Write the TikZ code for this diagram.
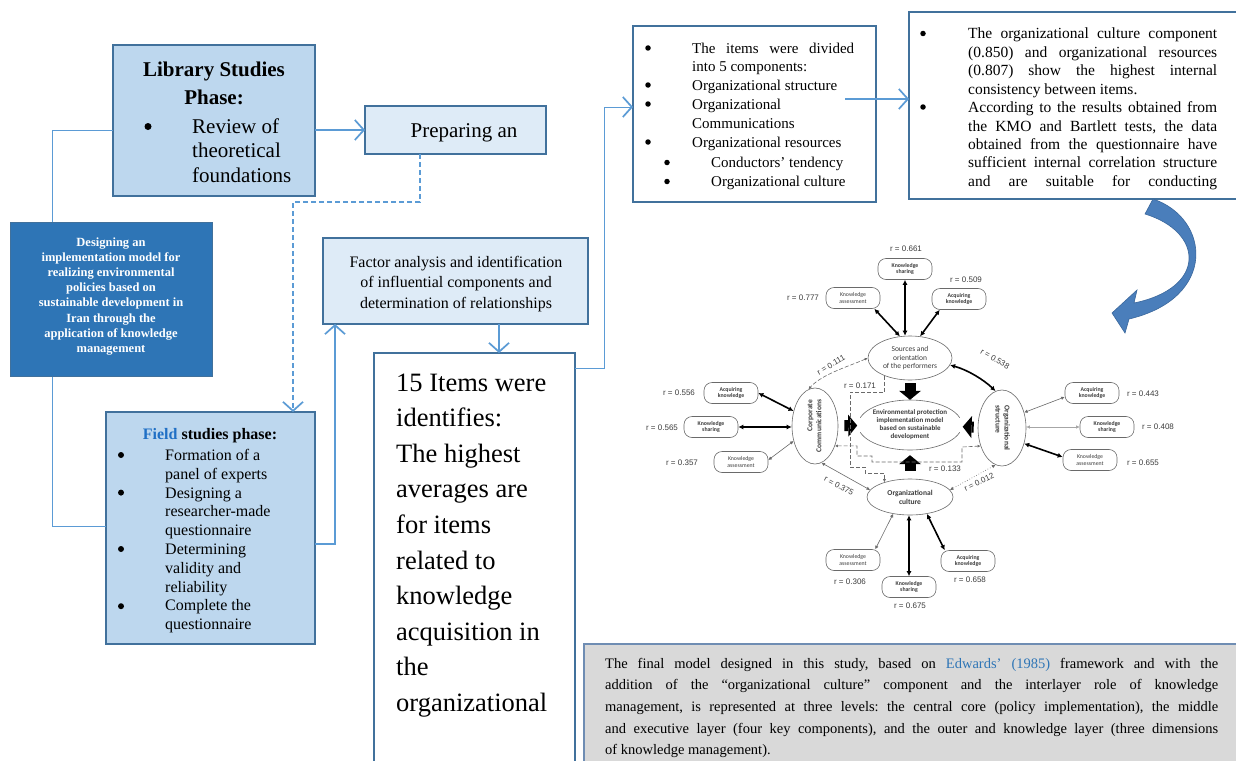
\documentclass[tikz,border=0pt]{standalone}
\usepackage{fontspec}
\usepackage{graphicx}
\setmainfont{Liberation Serif}
\newfontfamily\carl{Carlito}
\newfontfamily\arl{Liberation Sans}
\usetikzlibrary{arrows.meta,shapes.geometric}
\definecolor{boxblue}{HTML}{BDD7EE}
\definecolor{paleblue}{HTML}{DEEBF7}
\definecolor{darkfill}{HTML}{2E75B6}
\definecolor{edgeblue}{HTML}{41719C}
\definecolor{linkblue}{HTML}{5B9BD5}
\definecolor{fieldblue}{HTML}{1F6FC5}
\definecolor{citeblue}{HTML}{2E75B6}
\definecolor{notegray}{HTML}{D9D9D9}
\definecolor{noteedge}{HTML}{6F8DB3}
\definecolor{diag}{HTML}{3C3C3C}
\definecolor{diagline}{HTML}{6A6A6A}
\definecolor{curvefill}{HTML}{4A7EBB}
\definecolor{curveedge}{HTML}{3A679C}
\newcommand{\fsz}[1]{\fontsize{#1}{#1}\selectfont}
\newcommand{\textlines}[6]{\foreach \mytl [count=\myti] in {#6}{\node[#1] (#2\myti) at (#3,{#4+(\myti-1)*(#5)}) {\mytl};}}
\begin{document}
\frenchspacing
\begin{tikzpicture}[x=1pt,y=-1pt,
  bluebox/.style={draw=edgeblue, line width=2pt, anchor=north west, inner sep=0pt, outer sep=0pt},
  link/.style={draw=linkblue, line width=1.2pt},
  vtip/.style={-{Straight Barb[length=9pt,width=20pt,line width=1.7pt]}},
  txt/.style={inner sep=0pt, anchor=base west},
  ctxt/.style={inner sep=0pt, anchor=base},
  bul/.style={circle, fill=black, inner sep=0pt, minimum size=#1},
  ellnode/.style={ellipse, draw=diagline, line width=0.6pt, inner sep=0pt, align=center, text=diag, font=\carl\fontsize{7.5}{8.6}\selectfont},
  boldell/.style={ellnode, font=\carl\bfseries\fontsize{7.5}{9}\selectfont},
  kn/.style={rectangle, rounded corners=8pt, draw=diagline, line width=0.6pt, minimum width=54pt, minimum height=21pt, inner sep=0pt, align=center, text=diag, font=\carl\bfseries\fontsize{5.8}{6.6}\selectfont},
  knr/.style={kn, font=\carl\fontsize{5.8}{6.6}\selectfont},
  rl/.style={inner sep=0pt, text=diag, font=\arl\fsz{8}},
  dbl/.style={line width=1.6pt, draw=black, {Latex[length=5pt,width=5pt]}-{Latex[length=5pt,width=5pt]}},
  dblt/.style={line width=0.6pt, draw=diagline, {Latex[length=3.5pt,width=3.5pt]}-{Latex[length=3.5pt,width=3.5pt]}},
  dsh/.style={line width=0.6pt, draw=diagline, dash pattern=on 4pt off 2pt},
  smalltips/.style={{Latex[length=3pt,width=3pt]}-{Latex[length=3pt,width=3pt]}},
  blk/.style={line width=11pt, draw=black, -{Triangle[length=9pt,width=22pt,line width=0pt]}}
]
\useasboundingbox (0,0) rectangle (1236,760);
\fill[white] (0,0) rectangle (1236,760);
\clip (0,0) rectangle (1236,760);

% ---------- boxes ----------
\node[bluebox, fill=boxblue, minimum width=202pt, minimum height=151pt] (lib) at (113,45) {};
\node[bluebox, fill=paleblue, minimum width=181pt, minimum height=48pt] (prep) at (365,106) {};
\node[anchor=north west, fill=darkfill, draw=edgeblue, line width=0.8pt, inner sep=0pt, minimum width=202pt, minimum height=154pt] (des) at (10,222) {};
\node[bluebox, fill=boxblue, minimum width=209pt, minimum height=232pt] (fld) at (106,412) {};
\node[bluebox, fill=paleblue, minimum width=265pt, minimum height=86pt] (fac) at (323,238) {};
\node[bluebox, fill=white, minimum width=201pt, minimum height=420pt] (it) at (374,353) {};
\node[bluebox, fill=white, minimum width=243pt, minimum height=176pt] (ibox) at (633,26) {};
\node[bluebox, fill=white, minimum width=340pt, minimum height=187pt] (cbox) at (909,12) {};
\node[anchor=north west, fill=notegray, draw=noteedge, line width=2pt, inner sep=0pt, minimum width=670pt, minimum height=130pt] (note) at (583,643) {};

% ---------- box texts ----------
\node[ctxt, font=\bfseries\fsz{21}] (lib1) at (214,76) {Library Studies};
\node[ctxt, font=\bfseries\fsz{21}] (lib2) at (214,104) {Phase:};
\node[bul=7pt] (libb) at (148,126.5) {};
\textlines{txt, font=\fsz{21}}{libt}{192}{133}{24.5}{Review of, theoretical, foundations}

\node[ctxt, font=\fsz{21}] (prept) at (464,137) {Preparing an};

\textlines{ctxt, text=white, font=\bfseries\fsz{12.5}}{dest}{111}{246}{15.2}{Designing an, implementation model for, realizing environmental, policies based on, sustainable development in, Iran through the, application of knowledge, management}

\node[ctxt, font=\bfseries\fsz{16}] (fld0) at (210,439) {\textcolor{fieldblue}{Field} studies phase:};
\textlines{txt, font=\fsz{16}}{fldt}{165}{460.5}{18.8}{Formation of a, panel of experts, Designing a, researcher-made, questionnaire, Determining, validity and, reliability, Complete the, questionnaire}
\node[bul=6pt] (fldb1) at (121,455) {};
\node[bul=6pt] (fldb2) at (121,492.6) {};
\node[bul=6pt] (fldb3) at (121,549) {};
\node[bul=6pt] (fldb4) at (121,606.2) {};

\textlines{ctxt, font=\fsz{16}}{fact}{456}{267}{20.8}{Factor analysis and identification, of influential components and, determination of relationships}

\textlines{txt, font=\fsz{26.5}}{itt}{396}{391}{35.6}{15 Items were, identifies:, The highest, averages are, for items, related to, knowledge, acquisition in, the, organizational}

\node[txt, font=\fsz{15}] (ib1) at (692,53) {\makebox[162pt][s]{The items were divided}};
\textlines{txt, font=\fsz{15}}{ibt}{692}{71}{19}{into 5 components:, Organizational structure, Organizational, Communications, Organizational resources}
\node[txt, font=\fsz{15}] (ib7) at (711,167.5) {Conductors' tendency};
\node[txt, font=\fsz{15}] (ib8) at (711,186.5) {Organizational culture};
\node[bul=5.5pt] (ibb1) at (648,48) {};
\node[bul=5.5pt] (ibb2) at (648,85) {};
\node[bul=5.5pt] (ibb3) at (648,104) {};
\node[bul=5.5pt] (ibb4) at (648,142) {};
\node[bul=5.5pt] (ibb5) at (667,162.5) {};
\node[bul=5.5pt] (ibb6) at (667,181.5) {};

\textlines{txt, font=\fsz{15.5}}{cbt}{968}{39}{18.4}{{\makebox[249pt][s]{The organizational culture component}}, {\makebox[249pt][s]{(0.850) and organizational resources}}, {\makebox[249pt][s]{(0.807) show the highest internal}}, consistency between items., {\makebox[249pt][s]{According to the results obtained from}}, {\makebox[249pt][s]{the KMO and Bartlett tests, the data}}, {\makebox[249pt][s]{obtained from the questionnaire have}}, {\makebox[249pt][s]{sufficient internal correlation structure}}, {\makebox[249pt][s]{and are suitable for conducting}}}
\node[bul=5.5pt] (cbb1) at (923,33.5) {};
\node[bul=5.5pt] (cbb2) at (923,107) {};

\textlines{txt, font=\fsz{14.5}}{nt}{605}{668}{21.7}{{\makebox[613pt][s]{The final model designed in this study, based on \textcolor{citeblue}{Edwards’ (1985)} framework and with the}}, {\makebox[613pt][s]{addition of the “organizational culture” component and the interlayer role of knowledge}}, {\makebox[613pt][s]{management, is represented at three levels: the central core (policy implementation), the middle}}, {\makebox[613pt][s]{and executive layer (four key components), and the outer and knowledge layer (three dimensions}}, of knowledge management).}

% ---------- flow connectors ----------
\coordinate (c52) at (52,0);
\coordinate (c526) at (0,526);
\coordinate (c544) at (0,544);
\coordinate (c335) at (335,0);
\coordinate (c420) at (420,0);
\coordinate (c293) at (293,0);
\coordinate (dk) at (293,202);
\coordinate (c499) at (499,0);
\coordinate (c368) at (0,368);
\coordinate (ck) at (604,107);
\coordinate (ca) at (845,99);

\draw[link, line width=2pt, vtip] (lib.east |- prep.west) -- (prep.west);
\draw[link, line width=1pt] (lib.west |- prep.west) -| (des.north -| c52);
\draw[link, line width=1pt] (des.south -| c52) |- (fld.west |- c526);
\draw[link, line width=1.5pt, vtip] (fld.east |- c544) -| (fac.south -| c335);
\draw[link, line width=1.3pt, dash pattern=on 5pt off 3pt, vtip] (prep.south -| c420) |- (dk) -- (fld.north -| c293);
\draw[link, line width=1.5pt, vtip] (fac.south -| c499) -- (it.north -| c499);
\draw[link, line width=1pt, vtip] (it.east |- c368) -| (ck) -- (ibox.west |- ck);
\draw[link, line width=2pt, vtip] (ca) -- (cbox.west |- ca);

% curved block arrow
\fill[curvefill, draw=curveedge, line width=0.6pt] (1153,199) .. controls (1210,218) and (1218,298) .. (1129,319) -- (1125,333) -- (1112,313) -- (1137,290) -- (1134,303) .. controls (1207,288) and (1204,232) .. (1145,214) -- cycle;

% ---------- model diagram ----------
\node[ellnode, minimum width=84pt, minimum height=44pt] (src) at (910,358) {Sources and\\orientation\\of the performers};
\node[ellipse, inner sep=0pt, minimum width=105pt, minimum height=50pt, align=center, text=diag, font=\carl\bfseries\fontsize{7}{8}\selectfont] (core) at (910,425) {Environmental protection\\implementation model\\based on sustainable\\development};
\draw[diagline, line width=0.6pt] (core.center) ++(163:52 and 25) arc[start angle=163, end angle=17, x radius=52, y radius=25];
\draw[diagline, line width=0.6pt] (core.center) ++(197:52 and 25) arc[start angle=197, end angle=343, x radius=52, y radius=25];
\node[boldell, minimum width=46pt, minimum height=76pt] (comm) at (815,426) {\rotatebox{90}{\begin{tabular}{@{}r@{}}Corporate\\Communications\end{tabular}}};
\node[boldell, minimum width=48pt, minimum height=76pt] (st) at (1002,428) {\rotatebox{-90}{\begin{tabular}{@{}l@{}}Organizational\\structure\end{tabular}}};
\node[boldell, minimum width=86pt, minimum height=36pt] (cul) at (910,497) {Organizational\\culture};

% knowledge nodes
\node[kn] (ks1) at (905,269) {Knowledge\\sharing};
\node[knr] (kas1) at (853,298) {Knowledge\\assessment};
\node[kn] (ak1) at (959,299) {Acquiring\\knowledge};
\node[kn] (ak2) at (731,393) {Acquiring\\knowledge};
\node[kn] (ks2) at (711,427) {Knowledge\\sharing};
\node[knr] (kas2) at (741,462) {Knowledge\\assessment};
\node[kn] (ak3) at (1092,393) {Acquiring\\knowledge};
\node[kn] (ks3) at (1107,427) {Knowledge\\sharing};
\node[knr] (kas3) at (1090,460) {Knowledge\\assessment};
\node[knr] (kas4) at (853,560) {Knowledge\\assessment};
\node[kn] (ks4) at (909,587) {Knowledge\\sharing};
\node[kn] (ak4) at (968,561) {Acquiring\\knowledge};

% r labels
\node[rl] (r1) at (906,249) {r = 0.661};
\node[rl] (r2) at (803,298) {r = 0.777};
\node[rl] (r3) at (966,280) {r = 0.509};
\node[rl] (r4) at (679,393) {r = 0.556};
\node[rl] (r5) at (662,428) {r = 0.565};
\node[rl] (r6) at (682,463) {r = 0.357};
\node[rl] (r7) at (1143,394) {r = 0.443};
\node[rl] (r8) at (1158,427) {r = 0.408};
\node[rl] (r9) at (1143,463) {r = 0.655};
\node[rl] (r10) at (850,582) {r = 0.306};
\node[rl] (r11) at (910,606) {r = 0.675};
\node[rl] (r12) at (970,580) {r = 0.658};
\node[rl, rotate=30] (r13) at (831,365) {r = 0.111};
\node[rl, rotate=-30] (r14) at (995,359) {r = 0.538};
\node[rl, rotate=-28] (r15) at (839,486) {r = 0.375};
\node[rl, rotate=25] (r16) at (979,482) {r = 0.012};
\node[rl] (r17) at (860,386) {r = 0.171};
\node[rl] (r18) at (945,469) {r = 0.133};

% block arrows into the core
\draw[blk, shorten <=3pt] (src) -- (core);
\draw[blk, shorten <=6pt] (comm) -- (core);
\draw[blk, shorten <=4pt] (st) -- (core);
\draw[blk, shorten <=8pt, shorten >=5pt] (cul) -- (core);

% knowledge links
\draw[dbl] ([xshift=-6pt]kas1.south east) -- (src.115);
\draw[dbl] (ks1.south) -- (ks1.south |- src.north);
\draw[dbl] ([xshift=8pt]ak1.south west) -- (src.65);
\draw[dbl] (ak2.east) -- (comm.145);
\draw[dbl] (ks2.east) -- (ks2.east -| comm.west);
\draw[dblt] ([yshift=2pt]kas2.east) -- (comm.215);
\draw[dblt] ([yshift=-4pt]ak3.west) -- (st.35);
\draw[dblt, draw=diagline!60] (ks3.west) -- (ks3.west -| st.east);
\draw[dbl] ([yshift=3pt]kas3.west) -- (st.-35);
\draw[dblt] ([xshift=-5pt]kas4.north east) -- (cul.-135);
\draw[dbl] (ks4.north) -- (ks4.north |- cul.south);
\draw[dbl] ([xshift=4pt]ak4.north west) -- (cul.-45);

% links between components
\draw[dsh, smalltips] (src.west) .. controls (850,366) and (822,374) .. (comm.100);
\draw[dbl] (src.-10) .. controls (968,370) and (984,380) .. (st.100);
\draw[dblt] (comm.-80) -- (cul.170);
\draw[dblt, dotted] (st.-100) -- (cul.10);
\draw[dsh, -{Latex[length=3pt,width=3pt]}] (src.-145) |- (850,392) |- (865,467) |- (cul.150 |- 0,473) -- (cul.150);
\draw[dsh, smalltips] (comm.-45) -| (857,456) -| (872,462) -| (962,447) -- (st.-140);
\end{tikzpicture}
\end{document}
